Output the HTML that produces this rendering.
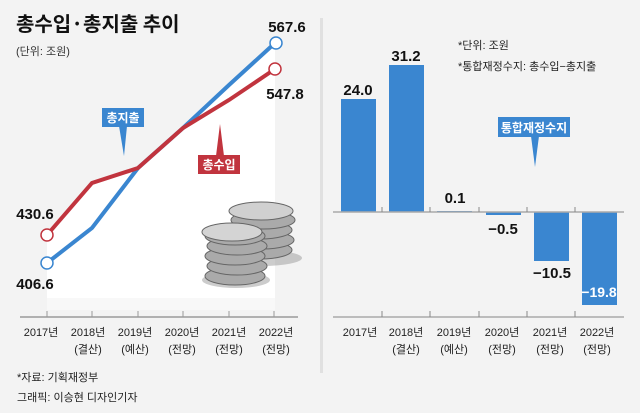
<!DOCTYPE html>
<html><head><meta charset="utf-8"><style>
body{margin:0;background:#f3f3f3;}
svg{display:block;font-family:"Liberation Sans","Noto Sans CJK KR",sans-serif;}
</style></head><body>
<svg width="640" height="413" viewBox="0 0 640 413">
<rect width="640" height="413" fill="#f3f3f3"/>
<polygon points="47,235 92,183 138,168 183,128 229,85 275,43 275,298 47,298" fill="#fff"/>
<rect x="47" y="298" width="228" height="12" fill="#f8f8f8"/>
<text x="16" y="31" font-size="20" font-weight="bold" fill="#111" font-family="'Noto Sans CJK KR',sans-serif">총수입·총지출 추이</text>
<text x="16" y="55" font-size="11" fill="#333">(단위: 조원)</text>
<g fill="#aaa" stroke="#666" stroke-width="1">
<ellipse cx="262" cy="258" rx="40" ry="8" fill="#999" stroke="none" opacity="0.5"/>
<ellipse cx="260" cy="250" rx="32" ry="9"/><ellipse cx="262" cy="240" rx="32" ry="9"/><ellipse cx="260" cy="230" rx="32" ry="9"/><ellipse cx="263" cy="220" rx="32" ry="9"/><ellipse cx="261" cy="211" rx="32" ry="9" fill="#d0d0d0"/>
<ellipse cx="236" cy="280" rx="34" ry="8" fill="#999" stroke="none" opacity="0.5"/>
<ellipse cx="235" cy="276" rx="30" ry="9"/><ellipse cx="237" cy="266" rx="30" ry="9"/><ellipse cx="235" cy="256" rx="30" ry="9"/><ellipse cx="237" cy="246" rx="30" ry="9"/><ellipse cx="235" cy="236" rx="30" ry="9"/><ellipse cx="232" cy="232" rx="30" ry="9" fill="#d4d4d4"/>
</g>
<polyline points="47,263 92,228 138,168 183,128 229,85 275,43" fill="none" stroke="#3a86d0" stroke-width="4"/>
<polyline points="47,235 92,183 138,168 183,128 229,100 275,69" fill="none" stroke="#c1343e" stroke-width="4"/>
<circle cx="47" cy="235" r="6" fill="#fff" stroke="#c1343e" stroke-width="1.5"/>
<circle cx="47" cy="263" r="6" fill="#fff" stroke="#3a86d0" stroke-width="1.5"/>
<circle cx="276" cy="43" r="6" fill="#fff" stroke="#3a86d0" stroke-width="1.5"/>
<circle cx="275" cy="69" r="6" fill="#fff" stroke="#c1343e" stroke-width="1.5"/>
<g font-size="15" font-weight="bold" fill="#111" text-anchor="middle">
<text x="287" y="32">567.6</text><text x="285" y="99">547.8</text>
<text x="35" y="219">430.6</text><text x="35" y="289">406.6</text>
</g>
<polygon points="119,126 127,126 124,156" fill="#3a86d0"/>
<rect x="102" y="108" width="42" height="19" fill="#3a86d0"/>
<text x="123" y="122" font-size="12" font-weight="bold" fill="#fff" text-anchor="middle">총지출</text>
<polygon points="216,156 224,156 220,124" fill="#c1343e"/>
<rect x="198" y="155" width="42" height="19" fill="#c1343e"/>
<text x="219" y="169" font-size="12" font-weight="bold" fill="#fff" text-anchor="middle">총수입</text>
<line x1="20" y1="317" x2="298" y2="317" stroke="#999" stroke-width="1.5"/>
<g stroke="#999"><line x1="47" y1="311" x2="47" y2="317"/><line x1="92" y1="311" x2="92" y2="317"/><line x1="138" y1="311" x2="138" y2="317"/><line x1="183" y1="311" x2="183" y2="317"/><line x1="229" y1="311" x2="229" y2="317"/><line x1="274" y1="311" x2="274" y2="317"/></g>
<g font-size="11" fill="#222" text-anchor="middle">
<text x="41" y="336">2017년</text>
<text x="88" y="336">2018년</text><text x="88" y="353">(결산)</text>
<text x="135" y="336">2019년</text><text x="135" y="353">(예산)</text>
<text x="182" y="336">2020년</text><text x="182" y="353">(전망)</text>
<text x="229" y="336">2021년</text><text x="229" y="353">(전망)</text>
<text x="276" y="336">2022년</text><text x="276" y="353">(전망)</text>
</g>
<text x="17" y="381" font-size="11" fill="#222">*자료: 기획재정부</text>
<text x="17" y="401" font-size="11" fill="#222">그래픽: 이승현 디자인기자</text>
<rect x="320" y="18" width="3" height="355" fill="#e0e0e0"/>
<text x="458" y="49" font-size="11" fill="#222">*단위: 조원</text>
<text x="458" y="70" font-size="11" fill="#222">*통합재정수지: 총수입−총지출</text>
<g fill="#3a86d0">
<rect x="341" y="99" width="35" height="113"/>
<rect x="389" y="65" width="35" height="147"/>
<rect x="437" y="211" width="35" height="1"/>
<rect x="486" y="212" width="35" height="3"/>
<rect x="534" y="212" width="35" height="49"/>
<rect x="582" y="212" width="35" height="93"/>
</g>
<line x1="333" y1="212" x2="624" y2="212" stroke="#aaa" stroke-width="1.5"/>
<g stroke="#888"><line x1="382" y1="207" x2="382" y2="212"/><line x1="430" y1="207" x2="430" y2="212"/><line x1="479" y1="207" x2="479" y2="212"/><line x1="527" y1="207" x2="527" y2="212"/><line x1="575" y1="207" x2="575" y2="212"/></g>
<line x1="333" y1="317" x2="624" y2="317" stroke="#aaa" stroke-width="1.5"/>
<g stroke="#888"><line x1="382" y1="311" x2="382" y2="317"/><line x1="430" y1="311" x2="430" y2="317"/><line x1="479" y1="311" x2="479" y2="317"/><line x1="527" y1="311" x2="527" y2="317"/><line x1="575" y1="311" x2="575" y2="317"/></g>
<g font-size="15" font-weight="bold" fill="#111" text-anchor="middle">
<text x="358" y="95">24.0</text><text x="406" y="61">31.2</text>
<text x="455" y="203">0.1</text><text x="503" y="234">−0.5</text>
<text x="552" y="278">−10.5</text><text x="599" y="297" fill="#fff" font-size="14">−19.8</text>
</g>
<polygon points="531,136 539,136 535,167" fill="#3a86d0"/>
<rect x="498" y="117" width="72" height="20" fill="#3a86d0"/>
<text x="534" y="132" font-size="12" font-weight="bold" fill="#fff" text-anchor="middle">통합재정수지</text>
<g font-size="11" fill="#222" text-anchor="middle">
<text x="360" y="336">2017년</text>
<text x="406" y="336">2018년</text><text x="406" y="353">(결산)</text>
<text x="454" y="336">2019년</text><text x="454" y="353">(예산)</text>
<text x="502" y="336">2020년</text><text x="502" y="353">(전망)</text>
<text x="550" y="336">2021년</text><text x="550" y="353">(전망)</text>
<text x="597" y="336">2022년</text><text x="597" y="353">(전망)</text>
</g>
</svg>
</body></html>
